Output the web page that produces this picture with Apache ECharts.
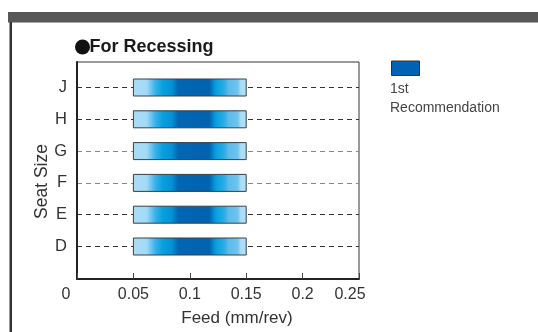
<!DOCTYPE html>
<html>
<head>
<meta charset="utf-8">
<script src="https://cdn.jsdelivr.net/npm/echarts@6/dist/echarts.min.js"></script>
<style>
  html, body { margin: 0; padding: 0; background: #fff; }
  #chart { width: 538px; height: 332px; }
</style>
</head>
<body>
<div id="chart"></div>
<script>
// Seat sizes, bottom to top
const seatSizes = ['D', 'E', 'F', 'G', 'H', 'J'];
// Recommended feed range for each seat size (mm/rev)
const feedStart = [0.05, 0.05, 0.05, 0.05, 0.05, 0.05];
const feedEnd = [0.15, 0.15, 0.15, 0.15, 0.15, 0.15];
// Feed axis tick values
const feedTicks = [0, 0.05, 0.1, 0.15, 0.2, 0.25];

const FONT = 'Liberation Sans, Arial, sans-serif';

const rangeData = seatSizes.map((s, i) => [feedStart[i], feedEnd[i], i]);

const barGradient = [
  { offset: 0.00, color: '#a9ddf7' },
  { offset: 0.12, color: '#a2daf6' },
  { offset: 0.20, color: '#36b0ea' },
  { offset: 0.26, color: '#08a0e0' },
  { offset: 0.34, color: '#0392d6' },
  { offset: 0.40, color: '#0066b3' },
  { offset: 0.67, color: '#0062b0' },
  { offset: 0.73, color: '#06a0e0' },
  { offset: 0.80, color: '#28ace6' },
  { offset: 0.84, color: '#5bbbea' },
  { offset: 0.92, color: '#6fc3ee' },
  { offset: 0.95, color: '#aadef7' },
  { offset: 1.00, color: '#b0e0f8' }
];

const chart = echarts.init(document.getElementById('chart'), null, { renderer: 'canvas' });

chart.setOption({
  animation: false,
  backgroundColor: '#ffffff',
  grid: [
    { left: 77, top: 62, width: 282, height: 220, show: true, borderColor: '#333', borderWidth: 1, backgroundColor: 'transparent' },
    { left: 77, top: 87.5, width: 282, height: 159 }
  ],
  xAxis: [
    {
      gridIndex: 0,
      type: 'value',
      min: feedTicks[0],
      max: feedTicks[feedTicks.length - 1],
      interval: 0.05,
      name: 'Feed (mm/rev)',
      nameLocation: 'middle',
      nameGap: 31,
      nameTextStyle: { fontFamily: FONT, fontSize: 17, color: '#333', padding: [0, 0, 0, 38] },
      axisLine: { show: true, lineStyle: { color: '#222', width: 2 } },
      axisTick: { show: true, inside: true, length: 6, lineStyle: { color: '#444', width: 1 } },
      splitLine: { show: false },
      axisLabel: {
        margin: 8,
        fontFamily: FONT,
        fontSize: 16,
        color: '#333',
        formatter: function (v) {
          if (v === 0) return '{l|0}';
          if (Math.abs(v - 0.25) < 1e-9) return '{r|0.25}';
          return String(+v.toFixed(2));
        },
        rich: {
          l: { fontFamily: FONT, fontSize: 16, color: '#333', padding: [0, 22, 0, 0] },
          r: { fontFamily: FONT, fontSize: 16, color: '#333', padding: [0, 18, 0, 0] }
        }
      }
    },
    {
      gridIndex: 1,
      type: 'value',
      min: feedTicks[0],
      max: feedTicks[feedTicks.length - 1],
      show: false
    }
  ],
  yAxis: [
    {
      gridIndex: 0,
      type: 'value',
      min: 0,
      max: 1,
      axisLine: { show: true, lineStyle: { color: '#222', width: 2 } },
      axisTick: { show: false },
      axisLabel: { show: false },
      splitLine: { show: false },
      name: 'Seat Size',
      nameLocation: 'middle',
      nameGap: 26,
      nameRotate: 90,
      nameTextStyle: { fontFamily: FONT, fontSize: 17.5, color: '#333', padding: [0, 22, 0, 0] }
    },
    {
      gridIndex: 1,
      type: 'category',
      data: seatSizes,
      boundaryGap: false,
      axisLine: { show: false },
      axisTick: { show: false },
      axisLabel: { margin: 10, fontFamily: FONT, fontSize: 16.5, color: '#333' },
      splitLine: {
        show: true,
        lineStyle: {
          type: [5, 4],
          width: 1,
          color: ['#333', '#333', '#888', '#888', '#333', '#333']
        }
      }
    }
  ],
  series: [
    {
      type: 'custom',
      xAxisIndex: 1,
      yAxisIndex: 1,
      data: rangeData,
      encode: { x: [0, 1], y: 2 },
      renderItem: function (params, api) {
        const a = api.coord([api.value(0), api.value(2)]);
        const b = api.coord([api.value(1), api.value(2)]);
        const h = 17;
        return {
          type: 'rect',
          shape: { x: a[0], y: a[1] - h / 2, width: b[0] - a[0], height: h },
          style: {
            fill: new echarts.graphic.LinearGradient(0, 0, 1, 0, barGradient),
            stroke: '#3a3f44',
            lineWidth: 1
          }
        };
      }
    }
  ],
  graphic: [
    // header band and left rule of the panel
    { type: 'rect', left: 8, top: 12, shape: { width: 530, height: 10.5 }, style: { fill: '#575757' }, silent: true },
    { type: 'rect', left: 9.5, top: 22, shape: { width: 2.5, height: 310 }, style: { fill: '#333' }, silent: true },
    // section heading with its bullet
    { type: 'circle', shape: { cx: 82.5, cy: 47, r: 7.5 }, style: { fill: '#111' } },
    {
      type: 'text', left: 89.5, top: 38,
      style: { text: 'For Recessing', font: 'bold 18px ' + FONT, fill: '#1a1a1a' }
    },
    // legend swatch and label
    { type: 'rect', left: 391, top: 60.5, shape: { width: 28, height: 14.5 }, style: { fill: '#0062b0', stroke: '#333', lineWidth: 1 } },
    {
      type: 'text', left: 390, top: 80,
      style: { text: '1st\nRecommendation', font: '14px ' + FONT, fill: '#444', lineHeight: 19 }
    }
  ]
});
</script>
</body>
</html>
